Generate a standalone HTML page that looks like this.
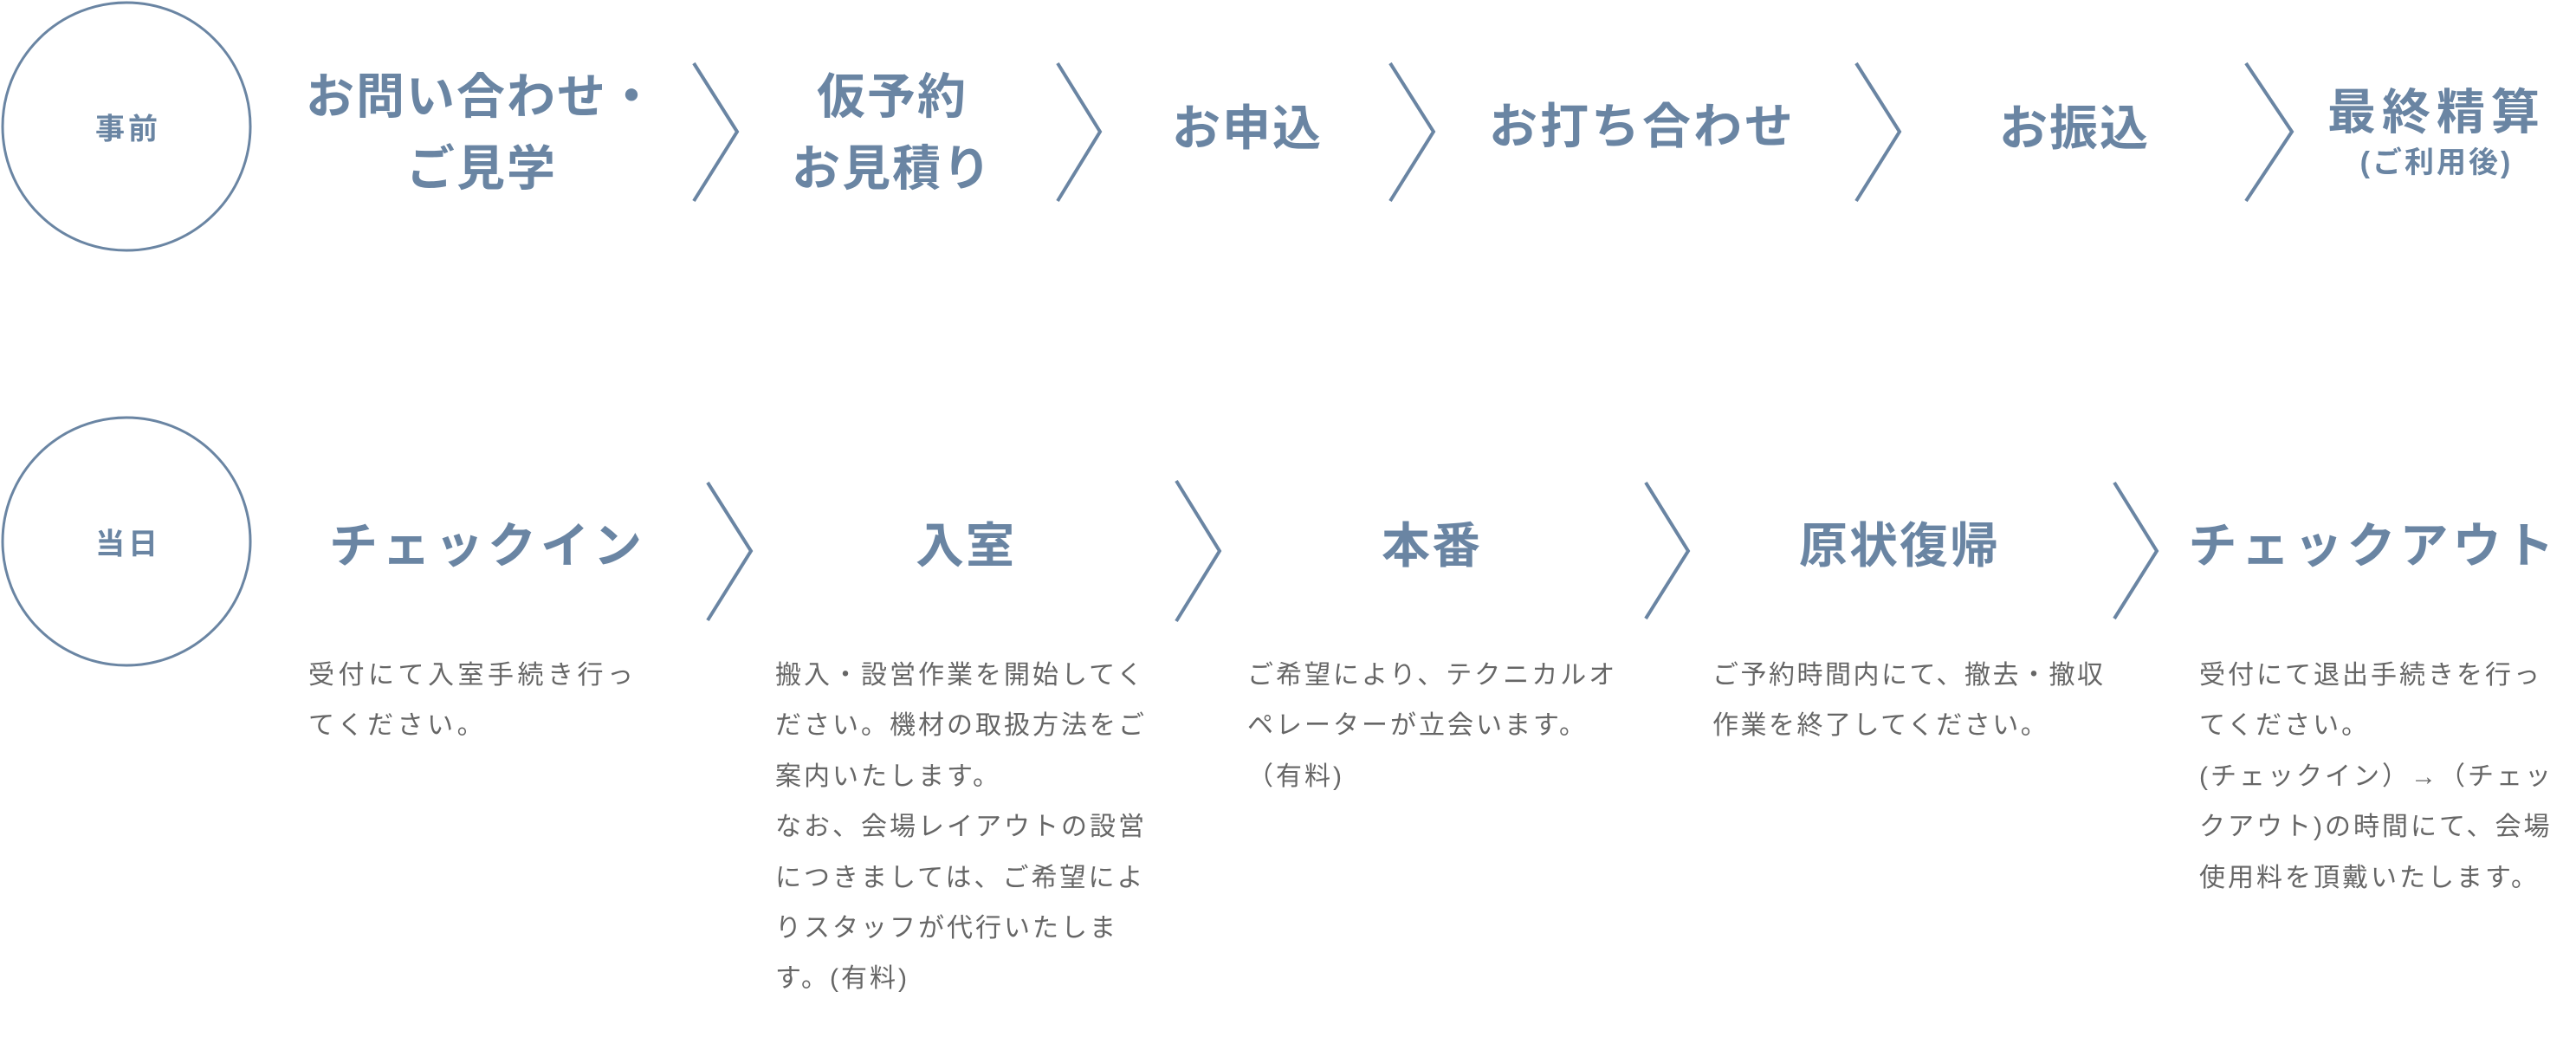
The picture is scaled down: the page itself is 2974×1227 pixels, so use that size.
<!DOCTYPE html>
<html><head><meta charset="utf-8"><style>
body{margin:0;width:2974px;height:1227px;background:#fff;position:relative;overflow:hidden;font-family:"Liberation Sans","Noto Sans CJK JP",sans-serif}
.h{position:absolute;color:#6a85a3;font-weight:bold;font-size:56px;letter-spacing:2px;white-space:nowrap;transform:translate(-50%,-50%);text-align:center;line-height:83px}
.s{font-size:34px;line-height:40px;display:block;letter-spacing:3px}
.c{position:absolute;color:#6a85a3;font-weight:bold;font-size:34px;letter-spacing:4px;transform:translate(-50%,-50%)}
.d{position:absolute;color:#666;font-size:30px;line-height:58.4px;letter-spacing:3px;white-space:nowrap;top:751px}
</style></head><body>
<svg width="2974" height="1227" style="position:absolute;left:0;top:0" fill="none" stroke="#6a85a3" stroke-width="4">
<circle cx="146" cy="146" r="143" stroke-width="3"/>
<circle cx="146" cy="625" r="143" stroke-width="3"/>
<polyline points="801,73 851,152 801,232"/>
<polyline points="1221,73 1270,152 1221,232"/>
<polyline points="1605,73 1655,152 1605,232"/>
<polyline points="2143,73 2193,152 2143,232"/>
<polyline points="2593,73 2646,152 2593,232"/>
<polyline points="817,557 867,636 817,716"/>
<polyline points="1358,555 1408,636 1358,717"/>
<polyline points="1900,557 1949,636 1900,714"/>
<polyline points="2441,557 2490,636 2441,714"/>
</svg>
<div class="c" style="left:148px;top:146px">事前</div>
<div class="c" style="left:148px;top:625px">当日</div>
<div class="h" style="left:556px;top:153px">お問い合わせ・<br>ご見学</div>
<div class="h" style="left:1030px;top:153px">仮予約<br>お見積り</div>
<div class="h" style="left:1440px;top:148px">お申込</div>
<div class="h" style="left:1896px;top:146px;letter-spacing:3px">お打ち合わせ</div>
<div class="h" style="left:2395px;top:148px">お振込</div>
<div class="h" style="left:2813px;top:150px;line-height:76px;letter-spacing:7px">最終精算<span class="s">(ご利用後)</span></div>
<div class="h" style="left:563px;top:630px;letter-spacing:5px">チェックイン</div>
<div class="h" style="left:1115px;top:630px">入室</div>
<div class="h" style="left:1653px;top:630px">本番</div>
<div class="h" style="left:2193px;top:630px">原状復帰</div>
<div class="h" style="left:2740px;top:630px;letter-spacing:5px">チェックアウト</div>
<div class="d" style="left:356px;letter-spacing:4.5px">受付にて入室手続き行っ<br>てください。</div>
<div class="d" style="left:895px">搬入・設営作業を開始してく<br>ださい。機材の取扱方法をご<br>案内いたします。<br>なお、会場レイアウトの設営<br>につきましては、ご希望によ<br>りスタッフが代行いたしま<br>す。(有料)</div>
<div class="d" style="left:1440px">ご希望により、テクニカルオ<br>ペレーターが立会います。<br>（有料)</div>
<div class="d" style="left:1977px;letter-spacing:2.5px">ご予約時間内にて、撤去・撤収<br>作業を終了してください。</div>
<div class="d" style="left:2539px">受付にて退出手続きを行っ<br>てください。<br>(チェックイン）→（チェッ<br>クアウト)の時間にて、会場<br>使用料を頂戴いたします。</div>
</body></html>
